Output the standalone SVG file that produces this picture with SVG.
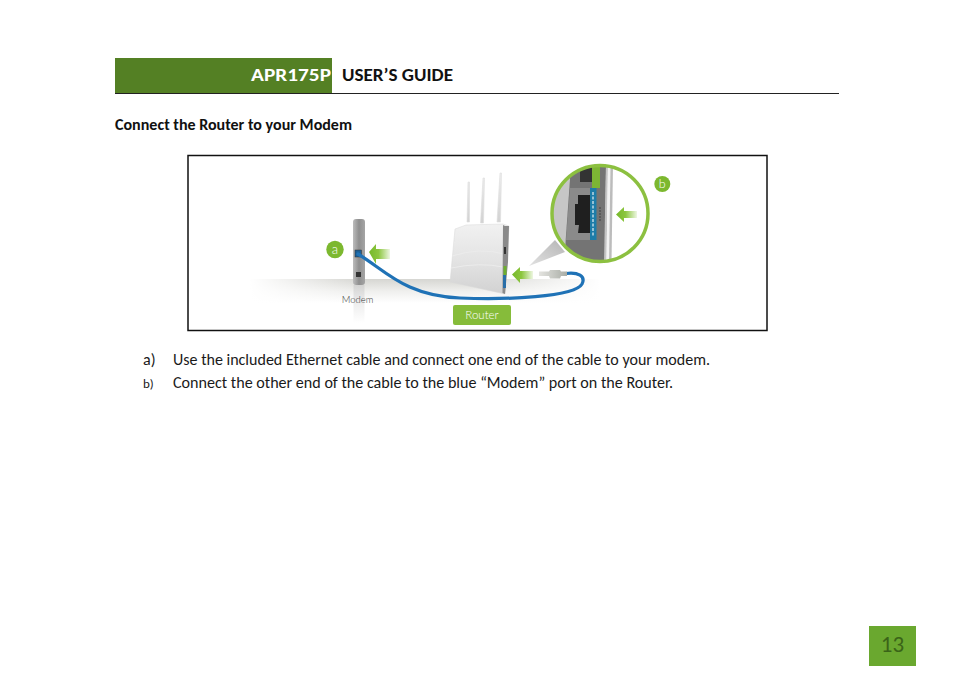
<svg xmlns="http://www.w3.org/2000/svg" width="954" height="673" viewBox="0 0 954 673">
<style>
.c{font-family:Carlito,Lato,"Open Sans","Liberation Sans",sans-serif}
.b{font-weight:700}
.body{font-size:16px;fill:#1a1a1a}
.lab{font-family:Lato,"Liberation Sans",sans-serif;font-weight:300}
.arrowFill{fill:url(#ag)}
</style>
<defs>
<linearGradient id="ag" x1="0" x2="1" y1="0" y2="0"><stop offset="0" stop-color="#76b82a"/><stop offset=".45" stop-color="#8cc63f"/><stop offset="1" stop-color="#8cc63f" stop-opacity=".15"/></linearGradient>
<linearGradient id="floor" x1="0" x2="0" y1="0" y2="1"><stop offset="0" stop-color="#d6d6d2"/><stop offset=".5" stop-color="#efefed"/><stop offset="1" stop-color="#fff"/></linearGradient>
<linearGradient id="fadeL" x1="0" x2="1" y1="0" y2="0"><stop offset="0" stop-color="#fff"/><stop offset="1" stop-color="#fff" stop-opacity="0"/></linearGradient>
<linearGradient id="fadeR" x1="1" x2="0" y1="0" y2="0"><stop offset="0" stop-color="#fff"/><stop offset="1" stop-color="#fff" stop-opacity="0"/></linearGradient>
<linearGradient id="modem" x1="0" x2="1" y1="0" y2="0"><stop offset="0" stop-color="#bcbcbc"/><stop offset=".5" stop-color="#8f8f8f"/><stop offset="1" stop-color="#a5a5a5"/></linearGradient>
<linearGradient id="refl" x1="0" x2="0" y1="0" y2="1"><stop offset="0" stop-color="#c8c8c8"/><stop offset="1" stop-color="#fff"/></linearGradient>
<linearGradient id="rbody" x1="0" x2="0" y1="0" y2="1"><stop offset="0" stop-color="#f1f1f1"/><stop offset=".5" stop-color="#e4e4e4"/><stop offset="1" stop-color="#d2d2d2"/></linearGradient>
<linearGradient id="ant" x1="0" x2="0" y1="0" y2="1"><stop offset="0" stop-color="#eeeeee"/><stop offset="1" stop-color="#d2d2d2"/></linearGradient>
<linearGradient id="tri" x1="1" x2="0" y1="0" y2="1"><stop offset="0" stop-color="#b5b5b5"/><stop offset="1" stop-color="#e2e2e2"/></linearGradient>
<linearGradient id="plug" x1="0" x2="1" y1="0" y2="0"><stop offset="0" stop-color="#e4e4e0"/><stop offset="1" stop-color="#a9ada6"/></linearGradient>
<clipPath id="lens"><circle cx="600" cy="213.500" r="48"/></clipPath>
</defs>
<rect width="954" height="673" fill="#fff"/>

<g id="header">
<rect x="115" y="58" width="217" height="36" fill="#548024"/>
<line x1="115" y1="93.500" x2="839" y2="93.500" stroke="#222" stroke-width="1"/>
<text class="c b" x="251" y="81" font-size="19px" fill="#fff" textLength="80" lengthAdjust="spacingAndGlyphs">APR175P</text>
<text class="c b" x="342" y="81" font-size="19px" fill="#111" textLength="111" lengthAdjust="spacingAndGlyphs">USER’S GUIDE</text>
</g>
<text id="title" class="c b" x="115" y="130" font-size="16px" fill="#111" textLength="237" lengthAdjust="spacingAndGlyphs">Connect the Router to your Modem</text>

<g id="figure">
<rect x="189" y="156" width="577" height="174" fill="#fff"/>
<rect x="250" y="279" width="350" height="24" fill="url(#floor)"/>
<rect x="250" y="279" width="110" height="24" fill="url(#fadeL)"/>
<rect x="470" y="279" width="130" height="24" fill="url(#fadeR)"/>
<rect x="353.500" y="285" width="11" height="38" fill="url(#refl)" opacity=".6"/>
</g>

<g id="modem-node">
<rect x="353" y="219" width="12" height="66" rx="3" fill="url(#modem)"/>
<rect x="355" y="250" width="6.500" height="7" fill="#1b5f96" stroke="#333" stroke-width=".5"/>
<rect x="356" y="272" width="5" height="5" fill="#333"/>
<path d="M369 252.500l7-8v5h14v10h-14v5z" class="arrowFill" transform="translate(0 -.5)"/>
<circle cx="335" cy="249.500" r="8.700" fill="#7cb82f"/>
<text class="lab" x="335" y="253.500" font-size="13px" fill="#fff" text-anchor="middle">a</text>
<text class="lab" x="357.500" y="302.500" font-size="9.500px" fill="#333" text-anchor="middle">Modem</text>
</g>

<g id="router-node">
<path d="M467 222L468 182H469.500L469.500 222ZM480.500 223L483 178H484.500L483.500 223ZM497 222L500 173H501.500L500.500 222Z" fill="url(#ant)" stroke="#dedede" stroke-width=".6"/>
<path d="M455 229L466 225L503 224L509 226L505 294L450 282Z" fill="url(#rbody)" stroke="#d8d8d8" stroke-width=".5"/>
<path d="M453 243Q480 232 505 240M452 256Q480 247 504 254M451 268Q480 262 503 267" stroke="#ececec" stroke-width="1" fill="none"/>
<path d="M505 226L509 226L508 262L505 294L502.500 293L503 225Z" fill="#8a8a8a"/>
<rect x="504" y="247" width="2" height="7" fill="#333"/>
<rect x="503.500" y="266" width="3" height="9" fill="#6cae2f"/>
<rect x="503" y="275" width="3" height="13" fill="#2a6fa8"/>
<path d="M512 274.500l8-7.500v4h13v8h-13v4z" class="arrowFill"/>
<rect x="453" y="305" width="58" height="20" rx="2" fill="#86bc3a"/>
<text class="lab" x="482" y="319" font-size="11.500px" fill="#fff" text-anchor="middle">Router</text>
</g>

<g id="zoom-lens">
<path d="M555 240L565 252L529 266Z" fill="url(#tri)"/>
<g clip-path="url(#lens)">
<rect x="551" y="165" width="100" height="98" fill="#fff"/>
<path d="M551 165H572L564 263H551Z" fill="#c6c6c6"/>
<path d="M571 165H606L605 263H564Z" fill="#747474"/>
<path d="M570 188H591V240H566Z" fill="#8a8a8a"/>
<path d="M580 165H592V182H580Z" fill="#333"/>
<path d="M578 195H590V233H578L579 225H575V204H578Z" fill="#1f1f1f"/>
<rect x="592" y="165" width="8" height="23" fill="#7db534"/>
<rect x="590" y="188" width="6.500" height="52" fill="#1d7ca8"/>
<path d="M593 192V236" stroke="#d5e6ee" stroke-width="1.300" stroke-dasharray="3 1.500"/>
<path d="M600 207V222" stroke="#4a4a4a" stroke-width="1.200" stroke-dasharray="2 1"/>
<path d="M606 165H608L606.500 263H604Z" fill="#c4c4c4"/>
<path d="M608 165H610.500L609 263H606.500Z" fill="#f2f2f2"/>
<path d="M610.500 165H613L611.500 263H609Z" fill="#bcbcbc"/>
</g>
<circle cx="600" cy="213.500" r="48" fill="none" stroke="#8cc040" stroke-width="3.500"/>
<path d="M616 214.500l8-7.500v4h13v7h-13v4z" class="arrowFill"/>
<circle cx="662.300" cy="184" r="8" fill="#7cb82f"/>
<text class="lab" x="662.300" y="188" font-size="12.500px" fill="#fff" text-anchor="middle">b</text>
</g>

<g id="connectors">
<path d="M358 254C385 270 405 296 460 298C505 300 575 297 582 284C586 276 578 272 566 273.500" fill="none" stroke="#1f72b6" stroke-width="3.200" stroke-linecap="round"/>
<path d="M539 271.500H549L550 270H560L561 271.500H567V276H561L560 278.500H550L549 276H539Z" fill="url(#plug)"/>
</g>

<rect x="188" y="155.500" width="579" height="175" fill="none" stroke="#111" stroke-width="1.500"/>

<g id="steps">
<text class="c body" x="143" y="365">a)</text>
<text class="c body" x="173" y="365" textLength="537" lengthAdjust="spacingAndGlyphs">Use the included Ethernet cable and connect one end of the cable to your modem.</text>
<text class="c" x="143" y="388" font-size="13px" fill="#1a1a1a">b)</text>
<text class="c body" x="173" y="388" textLength="500" lengthAdjust="spacingAndGlyphs">Connect the other end of the cable to the blue “Modem” port on the Router.</text>
</g>

<g id="page-number">
<rect x="869" y="626" width="47" height="40" fill="#6aa82f"/>
<text class="c" x="892.500" y="651.500" font-size="23px" fill="#3a6418" text-anchor="middle">13</text>
</g>
</svg>
